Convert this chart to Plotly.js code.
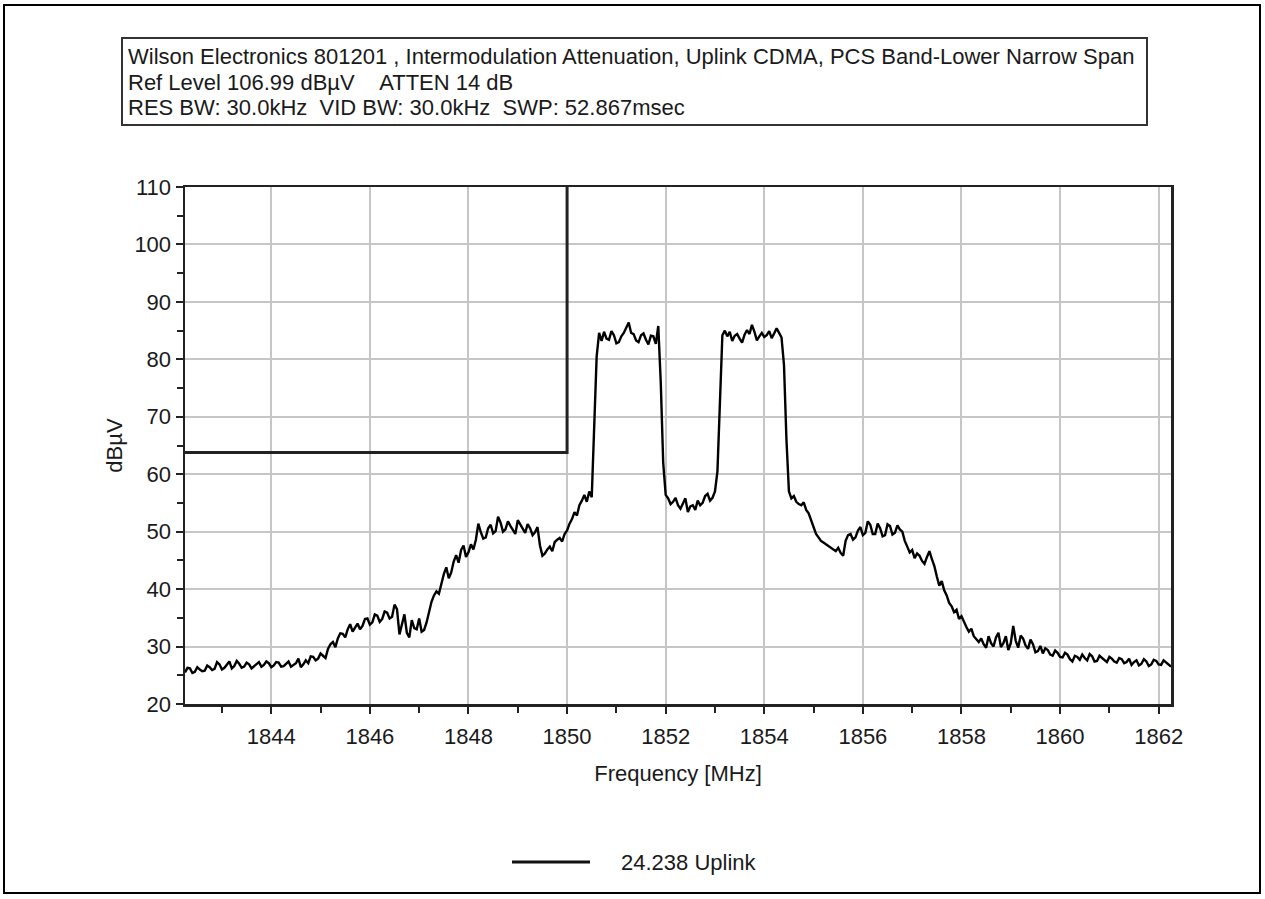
<!DOCTYPE html>
<html>
<head>
<meta charset="utf-8">
<script src="https://cdn.plot.ly/plotly-3.0.1.min.js"></script>
<style>
  html, body { margin: 0; padding: 0; background: #ffffff; }
  #chart { width: 1265px; height: 899px; }
</style>
</head>
<body>
<div id="chart"></div>
<script>
// Sweep settings of the analyzer trace (MHz)
const freqStart = 1842.25;
const freqStep = 0.05;

// Measured level per sweep bin (dBuV), one value per 0.05 MHz bin (401 bins)
const uplinkLevel = [
  25.5, 26.3, 26.2, 25.4, 25.6, 26.4, 26.0, 25.7, 25.8, 26.7,
  26.4, 25.9, 26.1, 27.3, 26.9, 26.0, 26.3, 26.8, 27.4, 26.2,
  26.6, 27.5, 27.0, 26.3, 26.5, 27.2, 26.9, 26.2, 26.6, 27.0,
  27.3, 26.5, 26.8, 27.4, 27.1, 26.4, 26.7, 27.3, 27.2, 26.5,
  26.6, 27.0, 27.4, 26.5, 26.8, 27.1, 27.9, 26.4, 26.9, 27.6,
  27.1, 28.3, 28.2, 27.6, 27.9, 28.8, 28.4, 28.0, 29.6, 30.4,
  30.8, 29.9, 31.4, 32.3, 32.2, 31.6, 33.0, 33.9, 32.6, 33.2,
  34.0, 33.0, 33.6, 34.8, 34.9, 33.8, 34.2, 35.6, 35.4, 34.3,
  34.8, 36.1, 35.9, 34.9, 35.2, 37.3, 36.5, 32.1, 34.0, 35.6,
  32.4, 31.6, 34.6, 33.2, 33.0, 34.9, 32.6, 32.9, 34.2, 36.0,
  37.8, 38.9, 39.6, 39.2, 41.0, 42.6, 43.8, 41.9, 42.9, 44.8,
  45.9, 44.6, 46.8, 47.6, 45.6, 46.4, 47.8, 46.9, 48.6, 51.4,
  49.9, 48.8, 49.0, 50.6, 51.2, 49.7, 50.1, 52.6, 51.6, 50.0,
  50.4, 51.8, 51.0, 50.2, 49.6, 52.0, 51.2, 50.4, 49.8, 51.3,
  50.6, 49.4, 49.9, 50.8, 47.6, 45.8, 46.2, 46.9, 47.4, 46.6,
  48.2, 48.6, 48.9, 48.3, 49.6, 50.2, 51.4, 52.2, 53.4, 52.8,
  54.6, 55.4, 56.4, 55.2, 57.0, 56.0, 68.0, 80.5, 84.6, 83.2,
  84.8, 83.6, 83.4, 84.9, 84.2, 82.8, 83.0, 84.0, 84.6, 85.4,
  86.4, 84.6, 84.4, 83.3, 83.0, 84.2, 84.5, 83.4, 82.6, 84.1,
  84.0, 82.7, 85.8, 76.0, 62.0, 56.4, 55.8, 54.8, 55.2, 55.9,
  54.6, 54.0, 55.0, 55.8, 53.4, 54.4, 54.6, 53.8, 55.4, 54.6,
  55.0, 56.2, 56.6, 55.4, 55.9, 57.0, 60.5, 74.0, 84.2, 85.0,
  84.0, 84.8, 83.2, 84.1, 84.4, 83.6, 82.9, 84.3, 85.1, 84.4,
  86.0, 84.8, 83.3, 84.0, 84.6, 83.9, 84.2, 84.9, 83.7, 84.5,
  85.4, 84.6, 83.8, 79.0, 66.0, 57.0, 55.8, 56.2, 55.2, 54.8,
  54.6, 55.1, 53.8, 53.2, 52.0, 50.6, 49.6, 49.0, 48.4, 48.1,
  47.8, 47.4, 47.2, 46.8, 46.6, 47.2, 46.3, 45.8, 48.4, 49.4,
  49.6, 48.6, 49.0, 50.2, 50.8, 49.4, 49.8, 51.8, 51.2, 49.6,
  49.6, 51.4, 50.6, 49.2, 49.4, 51.3, 51.0, 49.5, 49.8, 51.1,
  50.4, 50.0, 48.4, 47.4, 46.4, 46.8, 45.4, 46.2, 45.8, 44.9,
  44.4, 45.6, 46.6, 45.2, 44.0, 42.2, 40.6, 41.4, 39.8, 38.9,
  37.6, 37.0, 36.0, 36.4, 34.8, 35.3, 34.2, 33.4, 32.6, 33.1,
  31.8, 31.2, 30.8, 31.4, 30.4, 29.8, 31.8, 30.6, 30.0, 31.6,
  32.4, 29.9, 30.6, 31.8, 29.4, 30.6, 33.6, 31.0, 29.8, 31.9,
  31.4, 30.2, 29.6, 31.2, 30.4, 29.0, 29.2, 30.1, 28.8, 29.7,
  29.4, 28.6, 28.4, 29.3, 28.9, 28.2, 28.1, 28.9, 28.6, 27.8,
  27.4, 28.4, 28.2, 27.7, 28.6, 28.0, 27.6, 28.7, 28.3, 27.4,
  27.5, 28.4, 28.0, 27.6, 27.3, 28.2, 27.9, 27.4, 27.2, 28.0,
  27.8, 27.1, 27.3, 27.9, 26.8, 27.3, 27.6, 26.7, 27.0, 27.8,
  27.4, 26.6, 26.9, 27.7, 27.5, 26.9, 26.8, 27.6, 27.2, 26.8,
  26.5
];

// Limit mask
const limitFreq = [1842.25, 1850.0, 1850.0];
const limitLevel = [63.8, 63.8, 110];

// Axis ticks
const freqTicks = [1844, 1846, 1848, 1850, 1852, 1854, 1856, 1858, 1860, 1862];
const levelTicks = [20, 30, 40, 50, 60, 70, 80, 90, 100, 110];

const seriesName = '24.238 Uplink';
const headerLines = [
  'Wilson Electronics 801201 , Intermodulation Attenuation, Uplink CDMA, PCS Band-Lower Narrow Span',
  'Ref Level 106.99 dB\u00b5V\u00a0\u00a0\u00a0\u00a0ATTEN 14 dB',
  'RES BW: 30.0kHz\u00a0\u00a0VID BW: 30.0kHz\u00a0\u00a0SWP: 52.867msec'
];

const uplinkFreq = uplinkLevel.map((_, i) => +(freqStart + i * freqStep).toFixed(3));

// Page geometry (pixels)
const W = 1265, H = 899;
const M = { l: 185, r: 94, t: 187, b: 195 };
const PW = W - M.l - M.r, PH = H - M.t - M.b;
const px = x => (x - M.l) / PW;          // pixel -> paper x
const py = y => (H - M.b - y) / PH;      // pixel -> paper y

const FONT = 'Liberation Sans, Arial, sans-serif';
const INK = '#1a1a1a';
const FS = 22;

const traces = [
  {
    x: uplinkFreq, y: uplinkLevel, type: 'scatter', mode: 'lines',
    name: seriesName, line: { color: '#000000', width: 2.4 }, showlegend: false
  },
  {
    x: limitFreq, y: limitLevel, type: 'scatter', mode: 'lines',
    name: 'Limit', line: { color: '#222222', width: 3 }, showlegend: false
  }
];

const annotations = headerLines.map((t, i) => ({
  xref: 'paper', yref: 'paper', x: px(126), y: py(57 + i * 25),
  xanchor: 'left', yanchor: 'middle', showarrow: false, text: t,
  font: { family: FONT, size: FS, color: INK }
}));
annotations.push({
  xref: 'paper', yref: 'paper', x: px(619), y: py(862),
  xanchor: 'left', yanchor: 'middle', showarrow: false, text: seriesName,
  font: { family: FONT, size: FS, color: INK }
});

const shapes = [
  // outer frame
  { type: 'rect', xref: 'paper', yref: 'paper', x0: px(4), x1: px(1260), y0: py(5), y1: py(893),
    line: { color: '#000000', width: 2 }, layer: 'below' },
  // header box
  { type: 'rect', xref: 'paper', yref: 'paper', x0: px(122), x1: px(1147), y0: py(38), y1: py(125),
    line: { color: '#333333', width: 2 } },
  // legend sample line
  { type: 'line', xref: 'paper', yref: 'paper', x0: px(512), x1: px(590), y0: py(862), y1: py(862),
    line: { color: '#111111', width: 3 } }
];

const axisCommon = {
  showline: true, linecolor: '#222222', linewidth: 2.5, mirror: true,
  showgrid: true, gridcolor: '#c6c6c6', gridwidth: 2,
  ticks: 'outside', ticklen: 7, tickwidth: 2, tickcolor: '#222222',
  zeroline: false, fixedrange: true,
  tickfont: { family: FONT, size: FS, color: INK }
};

const layout = {
  width: W, height: H,
  margin: M,
  paper_bgcolor: '#ffffff', plot_bgcolor: '#ffffff',
  showlegend: false,
  xaxis: Object.assign({}, axisCommon, {
    range: [1842.25, 1862.25], tickmode: 'array', tickvals: freqTicks,
    ticklabelstandoff: 4,
    minor: { tick0: 1843, dtick: 2, ticks: 'outside', ticklen: 6, tickwidth: 2, tickcolor: '#222222', showgrid: false },
    title: { text: 'Frequency [MHz]', font: { family: FONT, size: FS, color: INK }, standoff: 18 },
    automargin: false
  }),
  yaxis: Object.assign({}, axisCommon, {
    range: [20, 110], tickmode: 'array', tickvals: levelTicks,
    minor: { tick0: 15, dtick: 10, ticks: 'outside', ticklen: 6, tickwidth: 2, tickcolor: '#222222', showgrid: false },
    title: { text: 'dB\u00b5V', font: { family: FONT, size: FS, color: INK }, standoff: 6 },
    automargin: false
  }),
  annotations: annotations,
  shapes: shapes
};

Plotly.newPlot('chart', traces, layout, { displayModeBar: false, staticPlot: true });
</script>
</body>
</html>
